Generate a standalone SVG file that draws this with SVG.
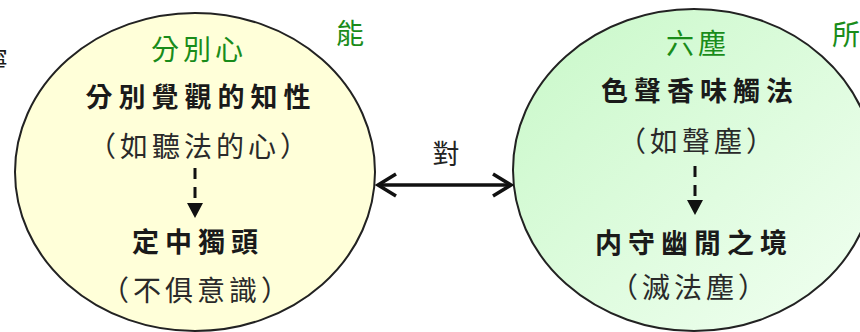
<svg xmlns="http://www.w3.org/2000/svg" width="860" height="332" viewBox="0 0 860 332">
<style>
text{font-family:"Noto Sans CJK TC","Noto Sans CJK SC",sans-serif;text-anchor:middle}
.g{fill:#1a8c1a;font-size:28px}
.m{fill:#1a1a1a;font-size:27px;font-weight:bold;letter-spacing:6px}
.p{fill:#2a2a2a;font-size:28px;letter-spacing:4px}
.ring{stroke:#222;stroke-width:2}
.dash{stroke:#111;stroke-width:3;stroke-dasharray:11,8;fill:none}
.head{fill:#111}
.link{stroke:#111;stroke-width:3.5;fill:none}
</style>
<defs>
<linearGradient id="gr" x1="0" y1="0" x2="1" y2="1">
<stop offset="0" stop-color="#c8f8c8"/>
<stop offset="1" stop-color="#f2fff2"/>
</linearGradient>
</defs>
<text x="-5" y="70" style="fill:#1a1a1a;font-size:26px">寧</text>
<g id="left">
<ellipse class="ring" cx="195" cy="172" rx="180" ry="159" fill="#ffffd9"/>
<text class="g" x="199" y="60" style="letter-spacing:4px">分別心</text>
<text class="m" x="201" y="107">分別覺觀的知性</text>
<text class="p" x="200" y="157">（如聽法的心）</text>
<text class="m" x="198" y="252">定中獨頭</text>
<text class="p" x="197" y="301">（不俱意識）</text>
</g>
<g id="right">
<ellipse class="ring" cx="694" cy="170" rx="181" ry="161" fill="url(#gr)"/>
<text class="g" x="698" y="54" style="letter-spacing:4px">六塵</text>
<text class="m" x="700" y="101">色聲香味觸法</text>
<text class="p" x="698" y="152">（如聲塵）</text>
<text class="m" x="694" y="253">内守幽閒之境</text>
<text class="p" x="690" y="298">（滅法塵）</text>
</g>
<g id="label-neng"><text class="g" x="350" y="44">能</text></g>
<g id="label-suo"><text class="g" x="846" y="45">所</text></g>
<g id="connectors">
<line class="dash" x1="195" y1="168" x2="195" y2="200"/>
<path class="head" d="M187,203 L203,203 L195,218 Z"/>
<line class="dash" x1="695" y1="166" x2="695" y2="198"/>
<path class="head" d="M687,200 L703,200 L695,215 Z"/>
<line class="link" x1="378" y1="185" x2="511" y2="185"/>
<path class="link" d="M396,174 L378,185 L396,196 M493,174 L511,185 L493,196"/>
<text x="446" y="164" style="fill:#222;font-size:27px">對</text>
</g>
</svg>
